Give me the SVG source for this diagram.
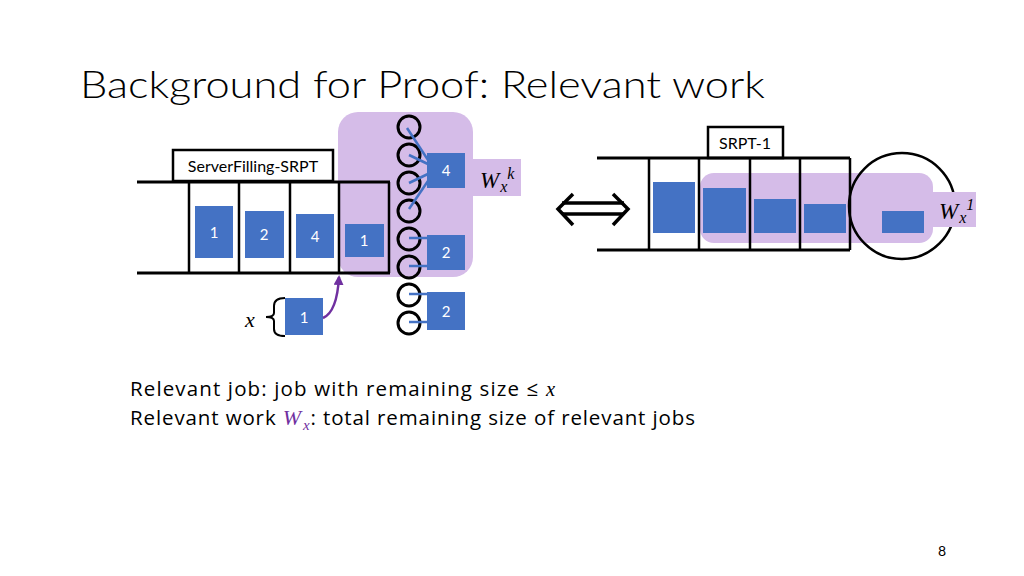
<svg xmlns="http://www.w3.org/2000/svg" width="1024" height="576" viewBox="0 0 1024 576">
<defs>
<style>
.t{font-family:Lato,"Liberation Sans",Arial,sans-serif;fill:#000}
.b{font-family:"Open Sans","Liberation Sans",Arial,sans-serif;fill:#000}
.m{font-family:"Liberation Serif","DejaVu Serif",serif;font-style:italic}
.job{fill:#4472C4}
.jl{font-family:Lato,"Liberation Sans",Arial,sans-serif;font-size:15px;fill:#fff;text-anchor:middle}
.ln{stroke:#000;stroke-width:3;fill:none}
.cell{stroke:#000;stroke-width:2.5;fill:none}
.srv{stroke:#000;stroke-width:3;fill:none}
.wire{stroke:#4472C4;stroke-width:2.5}
.hl{fill:#D5BCE8}
</style>
<marker id="ah" viewBox="0 0 10 10" refX="8" refY="5" markerWidth="4" markerHeight="4" orient="auto">
<path d="M0,0 L10,5 L0,10 z" fill="#7030A0"/>
</marker>
</defs>
<rect width="1024" height="576" fill="#fff"/>
<text class="t" x="80" y="98" font-size="38" font-weight="300" textLength="685" lengthAdjust="spacingAndGlyphs">Background for Proof: Relevant work</text>

<g id="left-system">
<g id="highlight-left">
<rect class="hl" x="338" y="112" width="135" height="165" rx="20"/>
<rect class="hl" x="465" y="159" width="56" height="37"/>
</g>
<g id="label-sf">
<rect x="173" y="150" width="160" height="31" fill="#fff" stroke="#000" stroke-width="2.5"/>
<text class="t" x="253" y="172" font-size="16" text-anchor="middle">ServerFilling-SRPT</text>
</g>
<g id="queue-left">
<line class="ln" x1="137" y1="182" x2="390" y2="182"/>
<line class="ln" x1="137" y1="273" x2="390" y2="273"/>
<line class="cell" x1="189" y1="182" x2="189" y2="273"/>
<line class="cell" x1="239" y1="182" x2="239" y2="273"/>
<line class="cell" x1="290" y1="182" x2="290" y2="273"/>
<line class="cell" x1="339" y1="182" x2="339" y2="273"/>
<line class="cell" x1="389" y1="182" x2="389" y2="273"/>
</g>
<g id="job-q1"><rect class="job" x="195" y="206" width="38" height="52"/><text class="jl" x="214" y="238">1</text></g>
<g id="job-q2"><rect class="job" x="245" y="211" width="39" height="47"/><text class="jl" x="264" y="240">2</text></g>
<g id="job-q3"><rect class="job" x="296" y="214" width="38" height="44"/><text class="jl" x="315" y="242">4</text></g>
<g id="job-q4"><rect class="job" x="345" y="224" width="39" height="33"/><text class="jl" x="364" y="246">1</text></g>
<g id="servers">
<circle class="srv" cx="409" cy="127" r="11"/>
<circle class="srv" cx="409" cy="155" r="11"/>
<circle class="srv" cx="409" cy="183" r="11"/>
<circle class="srv" cx="409" cy="211" r="11"/>
<circle class="srv" cx="409" cy="239" r="11"/>
<circle class="srv" cx="409" cy="267" r="11"/>
<circle class="srv" cx="409" cy="295" r="11"/>
<circle class="srv" cx="409" cy="323" r="11"/>
</g>
<g id="wires">
<line class="wire" x1="407" y1="128" x2="430" y2="163"/>
<line class="wire" x1="409" y1="155" x2="430" y2="165"/>
<line class="wire" x1="409" y1="183" x2="430" y2="173"/>
<line class="wire" x1="409" y1="209" x2="430" y2="178"/>
<line class="wire" x1="409" y1="238" x2="428" y2="238"/>
<line class="wire" x1="409" y1="266" x2="428" y2="266"/>
<line class="wire" x1="409" y1="294" x2="428" y2="294"/>
<line class="wire" x1="409" y1="322" x2="428" y2="322"/>
</g>
<g id="job-s4"><rect class="job" x="427" y="153" width="38" height="35"/><text class="jl" x="446" y="176">4</text></g>
<g id="job-s2a"><rect class="job" x="427" y="235" width="38" height="35"/><text class="jl" x="446" y="258">2</text></g>
<g id="job-s2b"><rect class="job" x="427" y="292" width="38" height="38"/><text class="jl" x="446" y="317">2</text></g>
<g id="label-wxk"><text class="m" x="480" y="188" font-size="23">W<tspan font-size="16" dx="1" dy="4">x</tspan><tspan font-size="16" dy="-13">k</tspan></text></g>
<g id="new-job">
<rect class="job" x="285" y="298" width="38" height="37"/><text class="jl" x="304" y="323">1</text>
<path d="M285,298 Q274,298 274,306 L274,313 Q274,317 266,317 Q274,317 274,321 L274,329 Q274,336 285,336" fill="none" stroke="#000" stroke-width="2"/>
<text class="m" x="245" y="327" font-size="22">x</text>
</g>
</g>
<g id="connectors">
<path d="M323,318 Q337,312 339,277" fill="none" stroke="#7030A0" stroke-width="2.5" marker-end="url(#ah)"/>
<g id="equiv" fill="none" stroke="#000" stroke-width="3.5">
<line x1="562" y1="203" x2="624" y2="203"/>
<line x1="562" y1="214" x2="624" y2="214"/>
<path d="M573,194 L558,209 L573,225"/>
<path d="M613,194 L628,209 L613,225"/>
</g>
</g>

<g id="right-system">
<g id="label-srpt1">
<rect x="708" y="127" width="75" height="31" fill="#fff" stroke="#000" stroke-width="2.5"/>
<text class="t" x="745" y="149" font-size="16" text-anchor="middle">SRPT-1</text>
</g>
<g id="highlight-right">
<rect class="hl" x="700" y="173" width="233" height="70" rx="14"/>
</g>
<g id="queue-right">
<line class="ln" x1="597" y1="158" x2="850" y2="158"/>
<line class="ln" x1="597" y1="250" x2="850" y2="250"/>
<line class="cell" x1="649" y1="158" x2="649" y2="250"/>
<line class="cell" x1="699" y1="158" x2="699" y2="250"/>
<line class="cell" x1="750" y1="158" x2="750" y2="250"/>
<line class="cell" x1="800" y1="158" x2="800" y2="250"/>
<line class="cell" x1="850" y1="158" x2="850" y2="250"/>
</g>
<circle id="server-right" cx="902" cy="206" r="53" fill="none" stroke="#000" stroke-width="2.5"/>
<rect class="hl" x="925" y="192" width="51" height="35"/>
<rect class="job" x="653" y="182" width="42" height="51"/>
<rect class="job" x="703" y="188" width="43" height="45"/>
<rect class="job" x="754" y="199" width="42" height="34"/>
<rect class="job" x="804" y="204" width="42" height="29"/>
<rect class="job" x="882" y="211" width="42" height="22"/>
<g id="label-wx1"><text class="m" x="939" y="219" font-size="23">W<tspan font-size="16" dx="1" dy="4">x</tspan><tspan font-size="16" dy="-13">1</tspan></text></g>
</g>

<g id="notes">
<text class="b" x="130" y="396" font-size="20.5" textLength="425">Relevant job: job with remaining size ≤ <tspan class="m">x</tspan></text>
<text class="b" x="130" y="425" font-size="20.5" textLength="565">Relevant work <tspan class="m" fill="#7030A0" font-size="22">W<tspan font-size="15" dx="1" dy="5">x</tspan></tspan><tspan dy="-5">: total remaining size of relevant jobs</tspan></text>
</g>
<text class="t" x="942" y="556" font-size="14" text-anchor="middle">8</text>
</svg>
